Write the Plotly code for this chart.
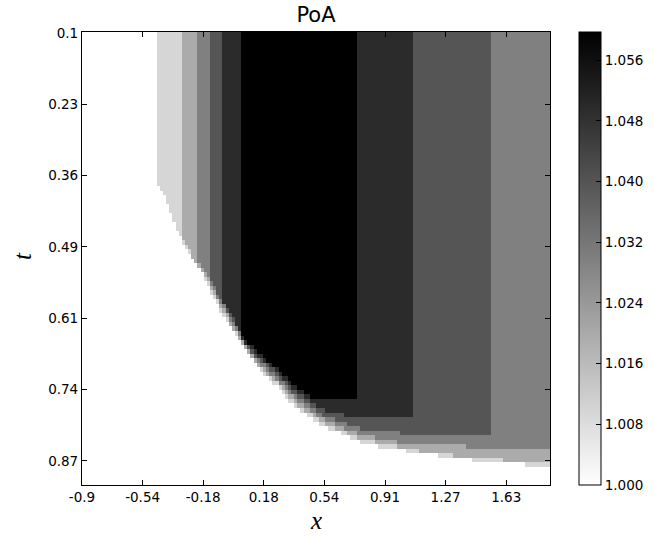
import numpy as np
import plotly.graph_objects as go

# ---- data ----
# PoA level of each grey band (white area = 1.000)
levels = [1.0097, 1.0197, 1.0297, 1.0397, 1.0497, 1.0597]

# lower boundary (t) of each level's region, as knots along x;
# first/last knot x = left/right edge of the band
L1_x = [-0.445, -0.433, -0.409, -0.386, -0.362, -0.338, -0.314, -0.284, -0.254, -0.212, -0.182, -0.152,
        -0.122, -0.092, -0.056, -0.015, 0.027, 0.063, 0.105, 0.147, 0.183, 0.225, 0.267, 0.327, 0.404,
        0.464, 0.542, 0.644, 0.739, 0.805, 0.943, 1.110, 1.350, 1.709, 1.900]
L1_t = [0.367, 0.375, 0.386, 0.404, 0.423, 0.444, 0.462, 0.480, 0.496, 0.511, 0.527, 0.545,
        0.563, 0.580, 0.602, 0.621, 0.639, 0.656, 0.674, 0.692, 0.702, 0.715, 0.727, 0.750, 0.769,
        0.782, 0.796, 0.808, 0.822, 0.828, 0.836, 0.843, 0.854, 0.863, 0.868]

L2_x = [-0.308, -0.284, -0.254, -0.212, -0.182, -0.152, -0.122, -0.092, -0.056, -0.015, 0.027, 0.045,
        0.063, 0.105, 0.147, 0.183, 0.225, 0.267, 0.327, 0.404, 0.464, 0.542, 0.644, 0.739, 0.805,
        0.943, 1.110, 1.350, 1.619, 1.900]
L2_t = [0.458, 0.473, 0.489, 0.507, 0.521, 0.538, 0.556, 0.573, 0.594, 0.616, 0.633, 0.642,
        0.653, 0.670, 0.686, 0.697, 0.709, 0.720, 0.742, 0.762, 0.774, 0.791, 0.803, 0.815, 0.821,
        0.829, 0.840, 0.849, 0.856, 0.859]

L3_x = [-0.212, -0.182, -0.152, -0.122, -0.092, -0.056, -0.015, 0.027, 0.045, 0.063, 0.105, 0.147,
        0.183, 0.225, 0.267, 0.327, 0.404, 0.464, 0.542, 0.644, 0.739, 0.805, 0.943, 1.110, 1.493,
        1.541, 1.900]
L3_t = [0.502, 0.515, 0.531, 0.549, 0.566, 0.587, 0.609, 0.629, 0.636, 0.649, 0.665, 0.681,
        0.691, 0.703, 0.714, 0.735, 0.755, 0.767, 0.783, 0.796, 0.808, 0.813, 0.822, 0.829, 0.833,
        0.838, 0.840]

L4_x = [-0.140, -0.122, -0.092, -0.056, -0.015, 0.027, 0.045, 0.063, 0.105, 0.147, 0.183, 0.225,
        0.267, 0.327, 0.404, 0.464, 0.542, 0.644, 0.739, 0.895, 1.080, 1.553]
L4_t = [0.531, 0.542, 0.559, 0.580, 0.604, 0.623, 0.631, 0.646, 0.661, 0.676, 0.685, 0.697,
        0.707, 0.728, 0.748, 0.759, 0.776, 0.787, 0.799, 0.805, 0.810, 0.812]

L5_x = [-0.062, -0.015, 0.027, 0.045, 0.063, 0.105, 0.147, 0.183, 0.225, 0.267, 0.327, 0.404,
        0.464, 0.542, 0.644, 0.739, 1.080]
L5_t = [0.570, 0.598, 0.618, 0.626, 0.642, 0.657, 0.670, 0.680, 0.691, 0.700, 0.720, 0.741,
        0.752, 0.766, 0.775, 0.780, 0.783]

L6_x = [0.045, 0.063, 0.105, 0.147, 0.183, 0.225, 0.267, 0.327, 0.404, 0.464, 0.542, 0.739]
L6_t = [0.622, 0.636, 0.651, 0.664, 0.673, 0.684, 0.692, 0.712, 0.733, 0.745, 0.750, 0.750]

x_min, x_max, nx = -0.9, 1.9, 150
t_min, t_max, ny = 0.1, 0.9, 100

x_ticktext = ['-0.9', '-0.54', '-0.18', '0.18', '0.54', '0.91', '1.27', '1.63']
t_ticktext = ['0.1', '0.23', '0.36', '0.49', '0.61', '0.74', '0.87']
cb_ticks = [1.000, 1.008, 1.016, 1.024, 1.032, 1.040, 1.048, 1.056]

# ---- build grid ----
xc = x_min + (np.arange(nx) + 0.5) * (x_max - x_min) / nx
tc = t_min + (np.arange(ny) + 0.5) * (t_max - t_min) / ny
X, T = np.meshgrid(xc, tc)
Z = np.full(X.shape, 1.0)
bounds = [(L1_x, L1_t), (L2_x, L2_t), (L3_x, L3_t), (L4_x, L4_t), (L5_x, L5_t), (L6_x, L6_t)]
for val, (bx, bt) in zip(levels, bounds):
    lim = np.interp(X, bx, bt)
    mask = (X >= bx[0]) & (X <= bx[-1]) & (T <= lim)
    Z[mask] = val

x_tickvals = [x_min + k * 0.36257 for k in range(len(x_ticktext))]
t_tickvals = [0.10177 + k * 0.12597 for k in range(len(t_ticktext))]

fig = go.Figure(go.Heatmap(
    x=xc, y=tc, z=Z, zmin=1.0, zmax=1.0597,
    colorscale=[[0, '#ffffff'], [1, '#000000']],
    zsmooth=False,
    colorbar=dict(
        x=(579 - 82) / 468, xanchor='left', xpad=0,
        y=0.5, yanchor='middle', ypad=0, len=1, lenmode='fraction',
        thickness=22, thicknessmode='pixels',
        outlinecolor='black', outlinewidth=1,
        tickvals=cb_ticks, ticktext=[f'{v:.3f}' for v in cb_ticks],
        ticks='inside', ticklen=5, tickcolor='black', tickwidth=1,
        tickfont=dict(family='DejaVu Sans', size=13.5, color='black'),
    ),
))

axis_common = dict(
    showline=True, linecolor='black', linewidth=1.2, mirror='ticks',
    ticks='inside', ticklen=5, tickcolor='black', tickwidth=1,
    showgrid=False, zeroline=False, automargin=False,
    tickfont=dict(family='DejaVu Sans', size=13.5, color='black'),
)

fig.update_layout(
    width=654, height=537,
    margin=dict(l=82, r=104, t=32, b=52, autoexpand=False),
    paper_bgcolor='white', plot_bgcolor='white',
    title=dict(text='PoA', x=0.5, xref='paper', xanchor='center',
               y=1 - 15 / 537, yref='container', yanchor='middle',
               font=dict(family='DejaVu Sans', size=21, color='black')),
    xaxis=dict(range=[x_min, x_max], tickvals=x_tickvals, ticktext=x_ticktext, **axis_common),
    yaxis=dict(range=[t_max, t_min], tickvals=t_tickvals, ticktext=t_ticktext, **axis_common),
    annotations=[
        dict(text='<i>x</i>', x=0.5, xref='paper', y=(485 - 520) / 453, yref='paper',
             xanchor='center', yanchor='middle', showarrow=False,
             font=dict(family='Liberation Serif', size=25, color='black')),
        dict(text='<i>t</i>', x=(22 - 82) / 468, xref='paper', y=(485 - 256) / 453, yref='paper',
             xanchor='center', yanchor='middle', showarrow=False, textangle=-90,
             font=dict(family='Liberation Serif', size=25, color='black')),
    ],
)

fig.write_html('out.html', config={'displayModeBar': False},
               post_script="document.body.style.margin='0px';document.body.style.padding='0px';")
